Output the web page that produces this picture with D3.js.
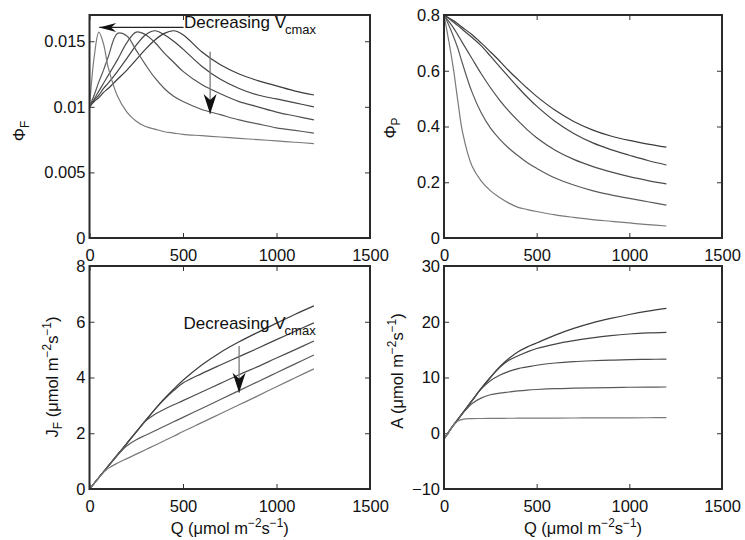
<!DOCTYPE html>
<html><head><meta charset="utf-8">
<script src="https://cdn.jsdelivr.net/npm/d3@7"></script>
<style>body{margin:0;background:#fff}svg{display:block}text{font-family:"Liberation Sans",Arial,Helvetica,sans-serif;fill:#111}</style>
</head><body><svg id="c" width="745" height="540"></svg>
<script>
// ---------- data ----------
const Q = [0,25,50,75,100,150,200,250,300,350,400,450,500,600,700,800,900,1000,1100,1200];

const phiF1 = [0.0100,0.0104,0.0107,0.0111,0.0114,0.0121,0.0128,0.0136,0.0144,0.0151,0.0156,0.0158,0.0155,0.0142,0.0132,0.0125,0.0120,0.0116,0.0112,0.0109];
const phiF2 = [0.0100,0.0105,0.0109,0.0114,0.0118,0.0127,0.0137,0.0147,0.0155,0.0158,0.0155,0.0150,0.0144,0.0131,0.0121,0.0114,0.0109,0.0106,0.0103,0.0100];
const phiF3 = [0.0100,0.0106,0.0112,0.0118,0.0124,0.0136,0.0149,0.0157,0.0155,0.0149,0.0141,0.0134,0.0127,0.0117,0.0110,0.0104,0.0100,0.0096,0.0093,0.0090];
const phiF4 = [0.0100,0.0109,0.0119,0.0128,0.0138,0.0156,0.0154,0.0143,0.0132,0.0122,0.0114,0.0108,0.0104,0.0098,0.0094,0.0090,0.0087,0.0084,0.0082,0.0080];
const phiF5 = [0.0100,0.0138,0.0157,0.0148,0.0130,0.0108,0.0096,0.0089,0.0085,0.0083,0.0081,0.0080,0.0079,0.0078,0.0077,0.0076,0.0075,0.0074,0.0073,0.0072];

const phiP1 = [0.80,0.79,0.78,0.768,0.755,0.73,0.70,0.668,0.635,0.60,0.568,0.537,0.508,0.458,0.418,0.388,0.366,0.35,0.337,0.326];
const phiP2 = [0.80,0.788,0.775,0.762,0.748,0.72,0.69,0.653,0.615,0.577,0.54,0.505,0.473,0.418,0.375,0.342,0.317,0.297,0.278,0.262];
const phiP3 = [0.80,0.778,0.755,0.728,0.70,0.645,0.59,0.54,0.495,0.455,0.42,0.388,0.36,0.315,0.282,0.257,0.237,0.22,0.206,0.194];
const phiP4 = [0.80,0.765,0.725,0.68,0.625,0.525,0.45,0.395,0.355,0.322,0.295,0.27,0.25,0.215,0.19,0.17,0.155,0.142,0.13,0.118];
const phiP5 = [0.80,0.71,0.61,0.49,0.38,0.26,0.205,0.17,0.145,0.125,0.11,0.102,0.095,0.083,0.074,0.066,0.06,0.054,0.048,0.043];

const JF1 = [0,0.205,0.41,0.615,0.82,1.23,1.64,2.05,2.46,2.86,3.24,3.58,3.90,4.45,4.90,5.28,5.62,5.95,6.27,6.57];
const JF2 = [0,0.205,0.41,0.615,0.82,1.23,1.64,2.05,2.46,2.86,3.22,3.53,3.80,4.14,4.45,4.75,5.05,5.36,5.66,5.96];
const JF3 = [0,0.205,0.41,0.615,0.82,1.23,1.64,2.05,2.44,2.68,2.86,3.02,3.17,3.48,3.79,4.10,4.39,4.70,5.00,5.31];
const JF4 = [0,0.205,0.41,0.615,0.82,1.21,1.55,1.77,1.93,2.09,2.25,2.41,2.57,2.89,3.21,3.53,3.85,4.17,4.49,4.81];
const JF5 = [0,0.205,0.41,0.59,0.74,0.93,1.09,1.25,1.41,1.57,1.73,1.89,2.06,2.38,2.70,3.02,3.34,3.67,3.99,4.31];

const A1 = [-1.0,0.2,1.4,2.5,3.6,5.8,8.0,10.0,11.9,13.4,14.6,15.5,16.2,17.6,18.8,19.8,20.6,21.3,21.9,22.4];
const A2 = [-1.0,0.2,1.4,2.5,3.6,5.8,8.0,10.0,11.8,13.1,13.9,14.6,15.2,16.0,16.6,17.1,17.5,17.8,18.0,18.1];
const A3 = [-1.0,0.2,1.4,2.5,3.6,5.8,7.9,9.4,10.4,11.1,11.6,11.9,12.2,12.6,12.85,13.0,13.1,13.2,13.25,13.3];
const A4 = [-1.0,0.2,1.4,2.5,3.5,5.3,6.3,6.9,7.2,7.4,7.6,7.75,7.85,8.0,8.08,8.15,8.2,8.25,8.28,8.3];
const A5 = [-1.0,0.2,1.35,2.2,2.5,2.62,2.65,2.67,2.68,2.69,2.7,2.71,2.72,2.73,2.74,2.75,2.76,2.77,2.78,2.8];

const xTicks = [0,500,1000,1500];
const xTickLabels = ["0","500","1000","1500"];
const phiFTicks = [0,0.005,0.01,0.015];
const phiFTickLabels = ["0","0.005","0.01","0.015"];
const phiPTicks = [0,0.2,0.4,0.6,0.8];
const phiPTickLabels = ["0","0.2","0.4","0.6","0.8"];
const jfTicks = [0,2,4,6,8];
const jfTickLabels = ["0","2","4","6","8"];
const aTicks = [-10,0,10,20,30];
const aTickLabels = ["\u221210","0","10","20","30"];

const annotText = "Decreasing V";
const annotSub = "cmax";

// ---------- drawing ----------
const svg = d3.select("#c");
const lineColors = ["#3c3c3c","#444","#4e4e4e","#5a5a5a","#7a7a7a"];
const FS = 16.5;

function panel(o){
  const x = d3.scaleLinear().domain([0,1500]).range([o.x0,o.x1]);
  const y = d3.scaleLinear().domain(o.yDomain).range([o.y1,o.y0]);
  const g = svg.append("g");
  const mk = (ax, ticks, labels, show) => ax.tickValues(ticks)
      .tickFormat((d,i)=> show ? labels[i] : "")
      .tickSizeInner(-5).tickSizeOuter(0);
  const styleAx = sel => {
    sel.select(".domain").remove();
    sel.selectAll("line").attr("stroke","#333").attr("stroke-width",1);
    sel.selectAll("text").attr("font-size",FS).attr("fill","#111")
      .attr("font-family",'"Liberation Sans",Arial,sans-serif');
  };
  g.append("g").attr("transform",`translate(0,${o.y1})`)
    .call(mk(d3.axisBottom(x).tickPadding(11), xTicks, xTickLabels, true)).call(styleAx);
  g.append("g").attr("transform",`translate(0,${o.y0})`)
    .call(mk(d3.axisTop(x), xTicks, xTickLabels, false)).call(styleAx);
  g.append("g").attr("transform",`translate(${o.x0},0)`)
    .call(mk(d3.axisLeft(y).tickPadding(4), o.yTicks, o.yTickLabels, true)).call(styleAx);
  g.append("g").attr("transform",`translate(${o.x1},0)`)
    .call(mk(d3.axisRight(y), o.yTicks, o.yTickLabels, false)).call(styleAx);

  const line = d3.line().x((d,i)=>x(Q[i])).y(d=>y(d)).curve(d3.curveCatmullRom.alpha(0.5));
  g.selectAll("path.series").data(o.series).join("path")
    .attr("class","series").attr("d",line).attr("fill","none")
    .attr("stroke",(d,i)=>lineColors[i]).attr("stroke-width",1.2);

  g.append("rect").attr("x",o.x0).attr("y",o.y0)
    .attr("width",o.x1-o.x0).attr("height",o.y1-o.y0)
    .attr("fill","none").attr("stroke","#2a2a2a").attr("stroke-width",2);
  return {x,y,g};
}

function ylabel(px, py, parts){
  const t = svg.append("text").attr("transform",`translate(${px},${py}) rotate(-90)`)
    .attr("text-anchor","middle").attr("font-size",FS);
  parts.forEach(p=>{
    const s = t.append("tspan").text(p.t);
    if(p.sub){ s.attr("font-size",FS*0.72).attr("dy",4); }
    else if(p.sup){ s.attr("font-size",FS*0.72).attr("dy",-7); }
    if(p.back) s.attr("dy",p.back);
  });
}
function xlabel(px, py){
  const t = svg.append("text").attr("x",px).attr("y",py).attr("text-anchor","middle").attr("font-size",FS);
  t.append("tspan").text("Q (\u03bcmol m");
  t.append("tspan").text("\u22122").attr("font-size",FS*0.72).attr("dy",-7);
  t.append("tspan").text("s").attr("dy",7);
  t.append("tspan").text("\u22121").attr("font-size",FS*0.72).attr("dy",-7);
  t.append("tspan").text(")").attr("dy",7);
}
function unitParts(first, sub){
  return [{t:first},{t:sub,sub:true},{t:" (\u03bcmol m",back:sub?-4:0},{t:"\u22122",sup:true},{t:"s",back:7},{t:"\u22121",sup:true},{t:")",back:7}];
}

function arrow(x1,y1,x2,y2,lc,lw,L,W){
  svg.append("line").attr("x1",x1).attr("y1",y1).attr("x2",x2).attr("y2",y2)
    .attr("stroke",lc).attr("stroke-width",lw);
  const a = Math.atan2(y2-y1,x2-x1), c=Math.cos(a), s=Math.sin(a);
  const p = (u,v)=>[x2 + u*c - v*s, y2 + u*s + v*c];
  const pts = [p(0,0),p(-L,W/2),p(-L*0.7,0),p(-L,-W/2)];
  svg.append("path").attr("d","M"+pts.map(q=>q.join(",")).join("L")+"Z").attr("fill","#111");
}
function annot(px,py){
  const t = svg.append("text").attr("x",px).attr("y",py).attr("font-size",17).attr("fill","#1c1c38");
  t.append("tspan").text(annotText);
  t.append("tspan").text(annotSub).attr("font-size",13).attr("dy",6).attr("dx",-1);
}

const TL = panel({x0:89.5,x1:370,y0:15,y1:238,yDomain:[0,0.017],yTicks:phiFTicks,yTickLabels:phiFTickLabels,series:[phiF1,phiF2,phiF3,phiF4,phiF5]});
const TR = panel({x0:444,x1:722,y0:15,y1:238,yDomain:[0,0.8],yTicks:phiPTicks,yTickLabels:phiPTickLabels,series:[phiP1,phiP2,phiP3,phiP4,phiP5]});
const BL = panel({x0:89.5,x1:370,y0:266,y1:489,yDomain:[0,8],yTicks:jfTicks,yTickLabels:jfTickLabels,series:[JF1,JF2,JF3,JF4,JF5]});
const BR = panel({x0:444,x1:722,y0:266,y1:489,yDomain:[-10,30],yTicks:aTicks,yTickLabels:aTickLabels,series:[A1,A2,A3,A4,A5]});

// axis labels
ylabel(25,131,[{t:"\u03a6"},{t:"F",sub:true}]);
ylabel(396,128,[{t:"\u03a6"},{t:"P",sub:true}]);
ylabel(58,377,unitParts("J","F"));
ylabel(403,371,[{t:"A (\u03bcmol m"},{t:"\u22122",sup:true},{t:"s",back:7},{t:"\u22121",sup:true},{t:")",back:7}]);
xlabel((BL.x.range()[0]+BL.x.range()[1])/2, 534);
xlabel((BR.x.range()[0]+BR.x.range()[1])/2, 534);

// annotations (positioned in data units)
arrow(TL.x(503),TL.y(0.01605),TL.x(52),TL.y(0.01605),"#222",1.2,17,9);
annot(TL.x(505),TL.y(0.0160));
arrow(TL.x(645),TL.y(0.0142),TL.x(645),TL.y(0.00945),"#7a7a7a",1.3,20,13);
annot(BL.x(503),BL.y(5.75));
arrow(BL.x(800),BL.y(5.13),BL.x(800),BL.y(3.45),"#7a7a7a",1.3,20,13);
</script></body></html>
